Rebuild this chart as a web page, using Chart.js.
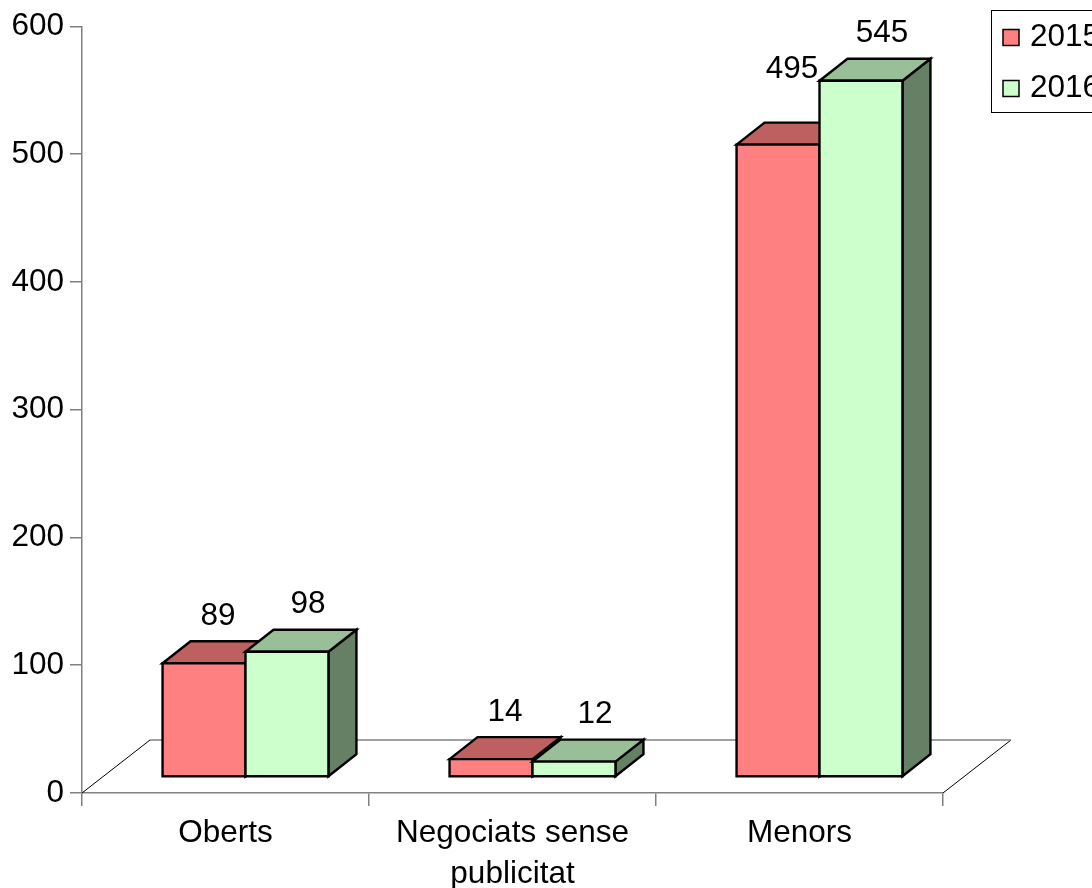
<!DOCTYPE html>
<html>
<head>
<meta charset="utf-8">
<script src="https://cdn.jsdelivr.net/npm/chart.js@4.4.1/dist/chart.umd.min.js"></script>
<style>
  html, body { margin: 0; padding: 0; background: #fff; }
  #wrap { width: 1092px; height: 888px; position: relative; overflow: hidden; }
</style>
</head>
<body>
<div id="wrap"><canvas id="c"></canvas></div>
<script>
// Contract counts by procedure type
const categories = ['Oberts', ['Negociats sense', 'publicitat'], 'Menors'];
const seriesNames = ['2015', '2016'];
const values2015 = [89, 14, 495];
const values2016 = [98, 12, 545];
const yTicks = [0, 100, 200, 300, 400, 500, 600];

const FONT = '"Liberation Sans", Arial, Helvetica, sans-serif';
const FONT_SIZE = 31.5;

// Extra lift for labels that would crowd a neighbouring bar (dataset:index)
const labelLift = { '0:2': -28 };

// Draws the floor, the extruded bars and their value labels
const bars3d = {
  id: 'bars3d',
  beforeDatasetsDraw(chart, args, o) {
    const { ctx, chartArea: a, scales: { y } } = chart;
    const y0 = y.getPixelForValue(0);
    const poly = (pts, fill) => {
      ctx.beginPath();
      ctx.moveTo(pts[0][0], pts[0][1]);
      for (let k = 1; k < pts.length; k++) ctx.lineTo(pts[k][0], pts[k][1]);
      ctx.closePath();
      ctx.fillStyle = fill;
      ctx.fill();
      ctx.stroke();
    };
    ctx.save();

    // floor
    ctx.lineWidth = 1;
    ctx.strokeStyle = '#000';
    ctx.beginPath();
    ctx.moveTo(a.left, y0); ctx.lineTo(a.left + o.floorDx, y0 + o.floorDy);
    ctx.moveTo(a.right, y0); ctx.lineTo(a.right + o.floorDx, y0 + o.floorDy);
    ctx.stroke();
    ctx.strokeStyle = '#808080';
    ctx.lineWidth = 1.5;
    ctx.beginPath();
    ctx.moveTo(a.left + o.floorDx, y0 + o.floorDy);
    ctx.lineTo(a.right + o.floorDx, y0 + o.floorDy);
    ctx.stroke();

    // bars, category by category so later series overlap earlier ones
    const sets = chart.data.datasets;
    const n = chart.data.labels.length;
    ctx.lineWidth = 2.4;
    ctx.strokeStyle = '#000';
    ctx.lineJoin = 'miter';
    const dx = o.depthDx, dy = o.depthDy;
    for (let j = 0; j < n; j++) {
      for (let i = 0; i < sets.length; i++) {
        const el = chart.getDatasetMeta(i).data[j];
        const ds = sets[i];
        const L = el.x - el.width / 2 + o.offX, R = el.x + el.width / 2 + o.offX;
        const T = el.y + o.offY, B = el.base + o.offY;
        poly([[R, B], [R + dx, B + dy], [R + dx, T + dy], [R, T]], ds.sideColor);
        poly([[L, T], [L + dx, T + dy], [R + dx, T + dy], [R, T]], ds.topColor);
        poly([[L, T], [R, T], [R, B], [L, B]], ds.backgroundColor);
      }
    }

    // value labels
    ctx.fillStyle = '#000';
    ctx.font = FONT_SIZE + 'px ' + FONT;
    ctx.textAlign = 'center';
    ctx.textBaseline = 'middle';
    for (let i = 0; i < sets.length; i++) {
      const meta = chart.getDatasetMeta(i);
      meta.data.forEach((el, j) => {
        const lift = labelLift[i + ':' + j] || 0;
        ctx.fillText(String(sets[i].data[j]),
          el.x + o.offX + sets[i].labelDx,
          el.y + o.offY + o.labelDy + lift);
      });
    }
    ctx.restore();
    return false;
  }
};

// Boxed legend in the upper right corner
const legendBox = {
  id: 'legendBox',
  afterDraw(chart, args, o) {
    const { ctx } = chart;
    ctx.save();
    ctx.strokeStyle = '#000';
    ctx.lineWidth = 1;
    ctx.strokeRect(o.x + 0.5, o.y + 0.5, 200, o.h);
    ctx.font = FONT_SIZE + 'px ' + FONT;
    ctx.textBaseline = 'middle';
    ctx.textAlign = 'left';
    chart.data.datasets.forEach((ds, i) => {
      const cy = o.y + o.first + i * o.step;
      ctx.fillStyle = ds.backgroundColor;
      ctx.fillRect(o.x + 12, cy - 8, 16, 16);
      ctx.lineWidth = 1.5;
      ctx.strokeRect(o.x + 12, cy - 8, 16, 16);
      ctx.fillStyle = '#000';
      ctx.fillText(ds.label, o.x + 39, cy);
    });
    ctx.restore();
  }
};

const tickFont = { family: FONT, size: FONT_SIZE, lineHeight: 1.3 };

new Chart(document.getElementById('c'), {
  type: 'bar',
  data: {
    labels: categories,
    datasets: [
      {
        label: seriesNames[0], data: values2015,
        backgroundColor: '#FF8080', topColor: '#BF6060', sideColor: '#804040',
        labelDx: 14, categoryPercentage: 0.578, barPercentage: 1
      },
      {
        label: seriesNames[1], data: values2016,
        backgroundColor: '#CCFFCC', topColor: '#99BF99', sideColor: '#668066',
        labelDx: 21, categoryPercentage: 0.578, barPercentage: 1
      }
    ]
  },
  options: {
    responsive: true,
    maintainAspectRatio: false,
    animation: false,
    devicePixelRatio: 1,
    layout: { padding: { top: 25, right: 149, left: 0, bottom: 0 } },
    plugins: {
      legend: { display: false },
      tooltip: { enabled: false },
      bars3d: { offX: 20, offY: -16, depthDx: 28, depthDy: -22, floorDx: 68, floorDy: -53, labelDy: -47 },
      legendBox: { x: 991, y: 10, h: 102, first: 27.5, step: 51 }
    },
    scales: {
      x: {
        grid: { offset: true, drawOnChartArea: false, tickLength: 13, color: '#808080', lineWidth: 1.5 },
        border: { color: '#808080', width: 1.5 },
        ticks: { font: tickFont, color: '#000', padding: 7, maxRotation: 0, autoSkip: false },
        afterFit(s) { s.height = 95; }
      },
      y: {
        min: 0, max: 600,
        afterBuildTicks(s) { s.ticks = yTicks.map(v => ({ value: v })); },
        grid: { drawOnChartArea: false, tickLength: 12, color: '#808080', lineWidth: 1.5 },
        border: { color: '#808080', width: 1.5 },
        ticks: { font: tickFont, color: '#000', padding: 6 },
        afterFit(s) { s.width = 82; }
      }
    }
  },
  plugins: [bars3d, legendBox]
});
</script>
</body>
</html>
